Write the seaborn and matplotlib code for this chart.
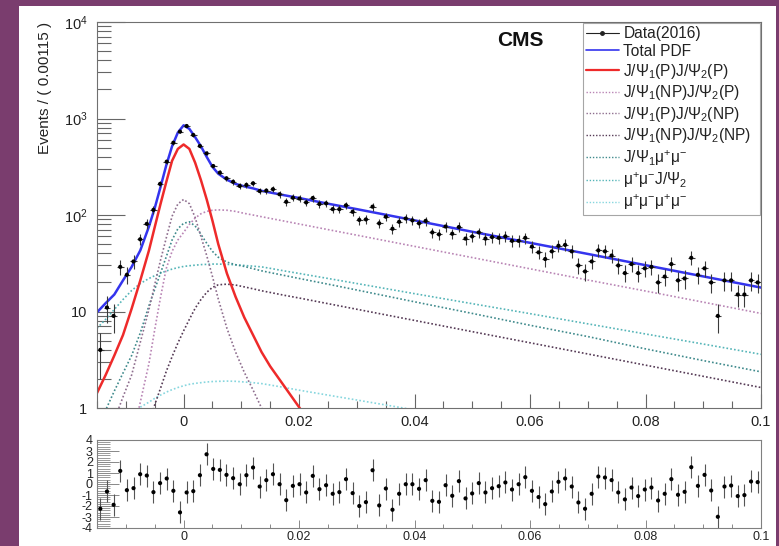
import numpy as np
import pandas as pd
import matplotlib
matplotlib.use("Agg")
import matplotlib.pyplot as plt
import seaborn as sns
from matplotlib.lines import Line2D
from matplotlib.patches import Rectangle
from matplotlib.ticker import FixedLocator, MultipleLocator, NullFormatter

# ---------------- data ----------------
x_low, x_high, bin_width = -0.015, 0.1, 0.00115
n_bins = 100

counts = [4, 11, 9, 29, 24, 33, 56, 81, 113, 210, 357, 561, 731, 836, 675, 519, 435, 322, 275, 240,
          221, 200, 205, 213, 177, 179, 185, 164, 137, 151, 148, 135, 150, 130, 132, 115, 115, 126, 108, 89,
          90, 122, 82, 96, 72, 85, 92, 88, 82, 87, 66, 63, 76, 64, 75, 57, 60, 66, 57, 59,
          58, 60, 54, 54, 58, 47, 41, 35, 42, 48, 49, 42, 30, 26, 33, 43, 42, 38, 30, 25,
          31, 25, 28, 29, 20, 23, 31, 21, 22, 36, 24, 28, 20, 9, 21, 21, 15, 15, 21, 20]

pulls = [-2.25, -0.68, -1.89, 1.19, -0.56, -0.38, 0.89, 0.77, -0.74, 0.08, 0.50, -0.62, -2.58, -0.77, -0.65,
         0.80, 2.70, 1.37, 1.28, 0.83, 0.53, -0.02, 0.80, 1.50, -0.23, 0.35, 0.89, -0.02, -1.47, -0.17,
         -0.02, -0.77, 0.74, -0.47, -0.11, -0.89, -0.74, 0.44, -0.83, -2.00, -1.65, 1.25, -1.95, -0.41, -2.34,
         -0.89, -0.02, -0.02, -0.44, 0.35, -1.53, -1.62, -0.11, -1.07, 0.26, -1.31, -0.86, 0.08, -0.77, -0.38,
         -0.20, 0.14, -0.50, -0.02, 0.62, -0.62, -1.19, -1.83, -0.68, 0.20, 0.50, -0.23, -1.68, -2.25, -0.89,
         0.68, 0.59, 0.35, -0.77, -1.40, -0.32, -1.10, -0.50, -0.32, -1.50, -0.89, 0.44, -0.98, -0.71, 1.53,
         -0.17, 0.83, -0.59, -2.98, -0.23, -0.14, -1.10, -1.01, 0.23, 0.17]

nan = np.nan
curve_x = [-0.015, -0.0135, -0.012, -0.0105, -0.009, -0.0075, -0.006, -0.005, -0.004, -0.003, -0.002, -0.001,
           0.0, 0.001, 0.002, 0.003, 0.004, 0.005, 0.006, 0.0075, 0.009, 0.0105, 0.012, 0.0135, 0.015, 0.0175,
           0.02, 0.025, 0.03, 0.04, 0.05, 0.06, 0.07, 0.08, 0.09, 0.1]

total_pdf = [9.8, 12.2, 15, 21, 29, 43, 76, 118, 195, 328, 515, 715, 850, 780, 640, 515, 400, 315, 268, 232,
             210, 198, 189, 178, 171, 160, 150, 131, 115, 88, 67, 51.5, 39.5, 30.2, 23.1, 17.7]
pp = [1.43, 2.2, 3.5, 5.7, 10.7, 21, 43, 75, 130, 220, 364, 484, 538, 484, 348, 230, 145, 87, 50, 24.8,
      14.2, 8.7, 5.75, 3.8, 2.7, 1.66, 1.02, 0.38, nan, nan, nan, nan, nan, nan, nan, nan]
np_p = [nan, nan, nan, nan, 0.45, 1.15, 2.9, 6.5, 14, 28, 42, 55, 66, 80, 93, 103, 109, 112, 113, 112,
        109, 104, 100, 96, 92.2, 86.3, 80.7, 70.6, 61.8, 47.3, 36.2, 27.7, 21.2, 16.3, 12.5, 9.55]
p_np = [0.28, 0.45, 0.75, 1.3, 2.2, 4.8, 10.5, 19, 34, 58, 97, 130, 145, 131, 94, 60, 38, 23, 13.5, 6.7,
        3.8, 2.35, 1.55, 1.0, 0.72, 0.45, nan, nan, nan, nan, nan, nan, nan, nan, nan, nan]
np_np = [nan, nan, nan, nan, nan, 0.45, 0.7, 1.08, 1.6, 2.4, 3.4, 4.7, 6.3, 8.3, 10.8, 13.3, 15.8, 17.8, 18.9, 19.2,
         18.8, 18, 17.2, 16.4, 15.75, 14.7, 13.8, 12.06, 10.55, 8.08, 6.18, 4.74, 3.63, 2.78, 2.13, 1.63]
jpsi_mumu = [0.6, 0.95, 1.5, 2.3, 3.5, 6, 11.5, 17, 25, 37, 55, 72, 82, 85, 77, 63, 51, 42, 36.5, 32.5,
             30.5, 29.3, 27.8, 26.4, 25.3, 23.6, 22.0, 19.2, 16.7, 12.6, 9.55, 7.2, 5.5, 4.1, 3.1, 2.37]
mumu_jpsi = [6.7, 8.3, 10.5, 13.3, 16.5, 19.5, 22, 23.5, 25, 26.3, 27.5, 28.5, 29.3, 29.8, 30.2, 30.6, 30.8, 31, 31, 30.8,
             30.5, 30, 29.5, 29, 28.0, 26.3, 24.8, 22.0, 19.5, 15.3, 12.05, 9.5, 7.45, 5.85, 4.6, 3.6]
mumu_mumu = [nan, nan, nan, nan, 0.85, 1.02, 1.15, 1.26, 1.36, 1.46, 1.55, 1.63, 1.7, 1.76, 1.8, 1.83, 1.86, 1.88, 1.89, 1.9,
             1.89, 1.86, 1.83, 1.79, 1.73, 1.63, 1.53, 1.36, 1.21, 0.955, 0.75, nan, nan, nan, nan, nan]

x_tick_values = [0, 0.02, 0.04, 0.06, 0.08, 0.1]
x_tick_labels = ["0", "0.02", "0.04", "0.06", "0.08", "0.1"]
y_tick_values = [1, 10, 100, 1000, 10000]
y_tick_labels = ["1", "10", r"$10^{2}$", r"$10^{3}$", r"$10^{4}$"]
pull_ticks = [4, 3, 2, 1, 0, -1, -2, -3, -4]

labels = ["Data(2016)", "Total PDF",
          r"J/$\Psi_{1}$(P)J/$\Psi_{2}$(P)",
          r"J/$\Psi_{1}$(NP)J/$\Psi_{2}$(P)",
          r"J/$\Psi_{1}$(P)J/$\Psi_{2}$(NP)",
          r"J/$\Psi_{1}$(NP)J/$\Psi_{2}$(NP)",
          r"J/$\Psi_{1}\mathrm{\mu^{+}\mu^{-}}$",
          r"$\mathrm{\mu^{+}\mu^{-}}$J/$\Psi_{2}$",
          r"$\mathrm{\mu^{+}\mu^{-}\mu^{+}\mu^{-}}$"]

# ---------------- style ----------------
sns.set_theme(style="white")
plt.rcParams["font.family"] = ["Liberation Sans", "DejaVu Sans"]
plt.rcParams["mathtext.fontset"] = "custom"
plt.rcParams["mathtext.rm"] = "Liberation Sans"
plt.rcParams["mathtext.it"] = "Liberation Sans:italic"
plt.rcParams["mathtext.bf"] = "Liberation Sans:bold"

W, H = 779, 546
fig = plt.figure(figsize=(W / 100, H / 100), dpi=100)
fig.patch.set_facecolor("#7a3d6e")
fig.patches.append(Rectangle((19 / W, 0), (776 - 19) / W, (546 - 6) / H,
                             transform=fig.transFigure, facecolor="white", edgecolor="none", zorder=-10))

ax = fig.add_axes([97 / W, 1 - 408 / H, (761 - 97) / W, (408 - 22) / H])
axp = fig.add_axes([97 / W, 1 - 528 / H, (761 - 97) / W, (528 - 440) / H])

centers = x_low + bin_width * (np.arange(n_bins) + 0.5)
counts_a = np.array(counts, dtype=float)
err = np.sqrt(counts_a)

ax.set_yscale("log")

curves = pd.DataFrame({"x": curve_x, "total": total_pdf, "pp": pp, "np_p": np_p, "p_np": p_np,
                       "np_np": np_np, "jm": jpsi_mumu, "mj": mumu_jpsi, "mm": mumu_mumu})

dot = (0, (1.0, 1.3))
styles = [
    ("mm", "#86d6de", dot, 1.2),
    ("mj", "#55b5b8", dot, 1.2),
    ("jm", "#3f8a8c", dot, 1.2),
    ("np_np", "#553a55", dot, 1.2),
    ("p_np", "#8e6e8e", dot, 1.2),
    ("np_p", "#b985b5", dot, 1.2),
    ("pp", "#ee2a2a", "-", 1.8),
    ("total", "#3434ee", "-", 1.8),
]
for col, c, ls, lw in styles:
    sub = curves[["x", col]].dropna()
    sns.lineplot(data=sub, x="x", y=col, ax=ax, color=c, linestyle=ls, linewidth=lw,
                 estimator=None, sort=True, legend=False)

ax.errorbar(centers, counts_a, yerr=err, xerr=bin_width / 2, fmt="none",
            ecolor="#3a3a3a", elinewidth=0.8, capsize=0, zorder=5)
sns.scatterplot(x=centers, y=counts_a, ax=ax, color="black", s=9, edgecolor="none", zorder=6, legend=False)

ax.set_xlim(x_low, x_high)
ax.set_ylim(1, 10000)
ax.set_xlabel("")
ax.set_ylabel("Events / ( 0.00115 )", fontsize=11, loc="top", color="#222222")
ax.yaxis.set_label_coords(-0.068, 1.0)

ax.xaxis.set_major_locator(FixedLocator(x_tick_values))
ax.set_xticklabels(x_tick_labels)
ax.xaxis.set_minor_locator(MultipleLocator(0.005))
ax.yaxis.set_major_locator(FixedLocator(y_tick_values))
ax.set_yticklabels(y_tick_labels)
ax.yaxis.set_minor_locator(FixedLocator([m * 10 ** e for e in range(0, 4) for m in range(2, 10)]))
ax.yaxis.set_minor_formatter(NullFormatter())
ax.tick_params(axis="both", which="both", direction="in", top=False, right=False,
               bottom=True, left=True, color="#666666")
ax.tick_params(axis="x", which="major", length=10, width=0.8, labelsize=10.5, pad=5, labelcolor="#222222")
ax.tick_params(axis="x", which="minor", length=5, width=0.8)
ax.tick_params(axis="y", which="major", length=20, width=0.8, labelsize=10.5, pad=7, labelcolor="#222222")
ax.tick_params(axis="y", which="minor", length=10, width=0.8)
for s in ax.spines.values():
    s.set_color("#707070")
    s.set_linewidth(0.8)

handles = [Line2D([], [], color="#222222", lw=0.8, marker="o", markersize=2.5)]
for col, c, ls, lw in [("total", "#3434ee", "-", 1.2), ("pp", "#ee2a2a", "-", 1.6), ("np_p", "#b985b5", dot, 1.0),
                       ("p_np", "#8e6e8e", dot, 1.0), ("np_np", "#553a55", dot, 1.0), ("jm", "#3f8a8c", dot, 1.0),
                       ("mj", "#55b5b8", dot, 1.0), ("mm", "#86d6de", dot, 1.0)]:
    handles.append(Line2D([], [], color=c, linestyle=ls, lw=lw))
leg = ax.legend(handles, labels, loc="upper left", bbox_to_anchor=(0.732, 0.997, 0.266, 0.0),
                mode="expand", frameon=True, fancybox=False, edgecolor="#909090", fontsize=11.2,
                handlelength=2.1, handletextpad=0.3, labelspacing=0.17, borderpad=0.2, borderaxespad=0)
leg.get_frame().set_linewidth(0.8)
for t in leg.get_texts():
    t.set_color("#222222")

fig.text(497 / W, 1 - 40 / H, "CMS", fontsize=15, fontweight="bold", ha="left", va="center", color="#111111")

# ---------------- pull panel ----------------
axp.errorbar(centers, pulls, yerr=1.0, fmt="none", ecolor="#555555", elinewidth=0.8, capsize=0, zorder=5)
sns.scatterplot(x=centers, y=pulls, ax=axp, color="black", s=9, edgecolor="none", zorder=6, legend=False)
axp.set_xlim(x_low, x_high)
axp.set_ylim(-4, 4)
axp.set_xlabel("")
axp.set_ylabel("")
axp.xaxis.set_major_locator(FixedLocator(x_tick_values))
axp.set_xticklabels(x_tick_labels)
axp.xaxis.set_minor_locator(MultipleLocator(0.005))
axp.yaxis.set_major_locator(FixedLocator(pull_ticks))
axp.set_yticklabels([str(v) for v in pull_ticks])
axp.yaxis.set_minor_locator(MultipleLocator(0.2))
axp.tick_params(axis="both", which="both", direction="in", top=False, right=False,
                bottom=True, left=True, color="#888888")
axp.tick_params(axis="x", which="major", length=6, width=0.7, labelsize=9, pad=2, labelcolor="#222222")
axp.tick_params(axis="x", which="minor", length=3, width=0.7)
axp.tick_params(axis="y", which="major", length=16, width=0.7, labelsize=9, pad=3, labelcolor="#222222")
axp.tick_params(axis="y", which="minor", length=9, width=0.6)
for s in axp.spines.values():
    s.set_color("#808080")
    s.set_linewidth(0.8)

fig.savefig("out.png", dpi=100, facecolor=fig.get_facecolor())
